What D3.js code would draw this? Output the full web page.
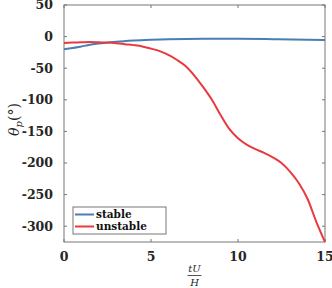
<!DOCTYPE html>
<html>
<head>
<meta charset="utf-8">
<script src="https://cdn.jsdelivr.net/npm/d3@7"></script>
<style>
  body { margin: 0; background: #fff; }
  svg text { font-family: "DejaVu Serif", serif; }
</style>
</head>
<body>
<svg id="chart"></svg>
<script>
// data
const tStable = [0, 0.5, 1, 1.5, 2, 2.5, 3, 4, 5, 6, 8, 10, 12, 14, 15];
const stable = [-20, -18, -15.5, -13, -11, -9.5, -8, -6, -4.8, -4, -3.5, -3.5, -4, -4.8, -5.5];

const tUnstable = [0, 0.5, 1, 1.5, 2, 2.5, 3, 3.5, 4, 4.5, 5, 5.5, 6, 6.5, 7, 7.5, 8, 8.5, 9, 9.5,
  10, 10.5, 11, 11.5, 12, 12.5, 13, 13.5, 14, 14.5, 15];
const unstable = [-10, -9.5, -9, -8.5, -9, -9.5, -10.5, -12, -13.5, -15.5, -19, -23, -29, -37, -47, -62,
  -80, -100, -124, -146, -161, -171, -178, -184, -191, -200, -214, -232, -257, -293, -325];

const xTicks = [0, 5, 10, 15];
const yTicks = [50, 0, -50, -100, -150, -200, -250, -300];
const seriesNames = ['stable', 'unstable'];
const colors = ['#4a7db3', '#e8393f'];

const width = 332, height = 288;
const margin = { left: 64, right: 7, top: 5, bottom: 46 };
const iw = width - margin.left - margin.right;
const ih = height - margin.top - margin.bottom;

const svg = d3.select('#chart').attr('width', width).attr('height', height);
const g = svg.append('g').attr('transform', `translate(${margin.left},${margin.top})`);

const x = d3.scaleLinear().domain([0, 15]).range([0, iw]);
const y = d3.scaleLinear().domain([-325, 50]).range([ih, 0]);

const axisColor = '#777';

// box
g.append('rect').attr('width', iw).attr('height', ih)
  .attr('fill', 'none').attr('stroke', axisColor).attr('stroke-width', 1);

// ticks pointing inward, on all four sides
xTicks.forEach(v => {
  g.append('line').attr('x1', x(v)).attr('x2', x(v)).attr('y1', ih).attr('y2', ih - 3).attr('stroke', axisColor);
  g.append('line').attr('x1', x(v)).attr('x2', x(v)).attr('y1', 0).attr('y2', 3).attr('stroke', axisColor);
  g.append('text').attr('x', x(v)).attr('y', ih + 19)
    .attr('text-anchor', 'middle').attr('font-weight', 'bold').attr('font-size', 12.5)
    .attr('fill', '#262626').text(v);
});
yTicks.forEach(v => {
  g.append('line').attr('x1', 0).attr('x2', 3).attr('y1', y(v)).attr('y2', y(v)).attr('stroke', axisColor);
  g.append('line').attr('x1', iw).attr('x2', iw - 3).attr('y1', y(v)).attr('y2', y(v)).attr('stroke', axisColor);
  g.append('text').attr('x', -11).attr('y', y(v)).attr('dy', '0.35em')
    .attr('text-anchor', 'end').attr('font-weight', 'bold').attr('font-size', 12.5)
    .attr('fill', '#262626').text(v);
});

// lines
const line = d3.line().x(d => x(d[0])).y(d => y(d[1])).curve(d3.curveMonotoneX);
const seriesData = [
  d3.zip(tStable, stable),
  d3.zip(tUnstable, unstable)
];
seriesData.forEach((pts, i) => {
  g.append('path').datum(pts).attr('d', line)
    .attr('fill', 'none').attr('stroke', colors[i]).attr('stroke-width', 2);
});

// y label: theta_p (deg)
const yl = svg.append('text')
  .attr('transform', `translate(19,${margin.top + ih / 2 - 4}) rotate(-90)`)
  .attr('text-anchor', 'middle').attr('font-size', 14).attr('fill', '#262626');
yl.append('tspan').attr('font-style', 'italic').text('θ');
yl.append('tspan').attr('font-style', 'italic').attr('font-size', 10).attr('dy', 3).text('p');
yl.append('tspan').attr('dy', -3).text('(°)');

// x label: fraction tU/H
const cx = margin.left + iw / 2;
svg.append('text').attr('x', cx).attr('y', 272).attr('text-anchor', 'middle')
  .attr('font-style', 'italic').attr('font-size', 10).attr('fill', '#262626').text('tU');
svg.append('line').attr('x1', cx - 7).attr('x2', cx + 7).attr('y1', 275.5).attr('y2', 275.5)
  .attr('stroke', '#262626').attr('stroke-width', 0.8);
svg.append('text').attr('x', cx).attr('y', 286).attr('text-anchor', 'middle')
  .attr('font-style', 'italic').attr('font-size', 10).attr('fill', '#262626').text('H');

// legend
const lg = g.append('g').attr('transform', `translate(${73 - margin.left},${207 - margin.top})`);
lg.append('rect').attr('width', 93).attr('height', 27)
  .attr('fill', '#fff').attr('stroke', axisColor).attr('stroke-width', 1);
seriesNames.forEach((name, i) => {
  const yy = 7.5 + i * 12;
  lg.append('line').attr('x1', 2).attr('x2', 21).attr('y1', yy).attr('y2', yy)
    .attr('stroke', colors[i]).attr('stroke-width', 2);
  lg.append('text').attr('x', 23).attr('y', yy).attr('dy', '0.35em')
    .attr('font-weight', 'bold').attr('font-size', 10.5).attr('fill', '#111').text(name);
});
</script>
</body>
</html>
